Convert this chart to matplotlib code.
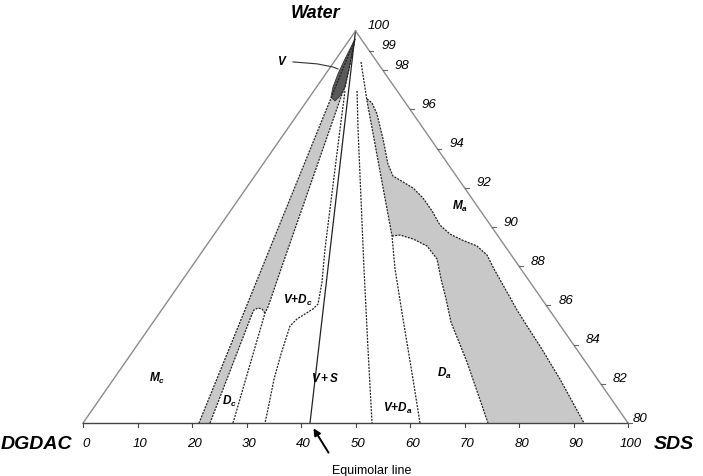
import matplotlib.pyplot as plt

# 部分三角相图：x 为 DGDAC/SDS 轴 (0-100)，y 为水含量 (80-100)
bottom_ticks = [0, 10, 20, 30, 40, 50, 60, 70, 80, 90, 100]
water_ticks = [100, 99, 98, 96, 94, 92, 90, 88, 86, 84, 82, 80]

# V 区 (深灰)
v_x = [49.91, 49.54, 48.81, 48.07, 47.16, 46.24, 45.50, 45.87, 46.79, 47.89, 48.99]
v_y = [99.59, 99.08, 98.06, 97.14, 96.68, 96.43, 96.63, 97.14, 97.81, 98.47, 99.08]

# 左侧两相带 Mc / Dc
band_l_x = [49.91, 21.28]
band_l_y = [99.59, 80.0]
band_r1_x = [23.30, 31.01]
band_r1_y = [80.0, 85.56]
cap_x = [31.01, 31.38, 32.11, 32.84, 33.39]
cap_y = [85.56, 85.77, 85.87, 85.82, 85.61]
band_r2_x = [27.52, 33.39, 33.94, 37.61, 47.34, 48.07, 48.81, 49.54, 49.91]
band_r2_y = [80.0, 85.61, 85.92, 88.88, 96.63, 97.14, 98.06, 99.08, 99.59]

# 中间相界线
line_a_x = [48.07, 47.16, 44.40, 43.85, 43.12, 42.20, 39.27, 37.98, 36.33, 35.05, 33.94, 33.39]
line_a_y = [96.94, 95.00, 88.88, 87.19, 86.07, 85.82, 85.31, 84.95, 83.52, 82.24, 80.71, 80.0]
line_b_x = [50.28, 50.46, 51.01, 51.56, 52.29, 53.03]
line_b_y = [96.94, 95.00, 91.43, 87.86, 83.78, 80.0]
line_c_x = [51.01, 52.11, 54.42, 56.70, 57.25, 58.72, 60.55, 61.83]
line_c_y = [98.42, 96.43, 92.96, 89.54, 87.86, 85.31, 82.24, 80.0]

# 右侧两相区 Ma / Da
inner_x = [56.70, 58.17, 60.55, 63.12, 64.95, 65.69, 66.61, 67.52, 70.46, 74.31]
inner_y = [89.54, 89.59, 89.39, 89.03, 88.37, 87.35, 86.33, 85.15, 83.11, 80.0]
outer_x = [52.11, 53.03, 53.94, 55.05, 55.96, 56.88, 58.72, 60.55, 62.39, 64.04, 65.50,
           67.34, 69.54, 72.29, 74.13, 75.41, 77.80, 79.63, 81.47, 83.85, 87.52, 91.93]
outer_y = [96.53, 96.33, 95.77, 94.49, 93.21, 92.60, 92.30, 91.99, 91.48, 90.82, 90.10,
           89.64, 89.34, 89.03, 88.57, 87.86, 86.68, 85.77, 84.95, 83.93, 82.24, 80.0]

# 等摩尔线 (顶点 -> 底边)
equimolar_x = [50.0, 41.65]
equimolar_y = [100.0, 80.0]

plt.rcParams['font.family'] = ['Liberation Sans', 'DejaVu Sans']
plt.rcParams['mathtext.fontset'] = 'custom'
plt.rcParams['mathtext.rm'] = 'Liberation Sans:bold:italic'
plt.rcParams['mathtext.it'] = 'Liberation Sans:bold:italic'
plt.rcParams['mathtext.bf'] = 'Liberation Sans:bold:italic'

fig = plt.figure(figsize=(7.03, 4.77), dpi=100)
ax = fig.add_axes([0, 0, 1, 1])
ax.set_xlim(-15.23, 113.76)
ax.set_ylim(77.30, 101.63)
ax.axis('off')

grey = '#c8c8c8'
dash = dict(color='#222222', lw=0.9, ls=(0, (1.6, 1.0)))

# 左侧灰带
poly_x = band_l_x + band_r1_x + cap_x[1:] + band_r2_x[2:]
poly_y = band_l_y + band_r1_y + cap_y[1:] + band_r2_y[2:]
ax.fill(poly_x, poly_y, color=grey, lw=0)
for xs, ys in [(band_l_x, band_l_y), (band_r1_x, band_r1_y), (cap_x, cap_y), (band_r2_x, band_r2_y)]:
    ax.plot(xs, ys, **dash)

# 右侧灰区
rx = line_c_x[1:4] + inner_x[1:] + outer_x[::-1]
ry = line_c_y[1:4] + inner_y[1:] + outer_y[::-1]
ax.fill(rx, ry, color=grey, lw=0)
ax.plot(inner_x, inner_y, **dash)
ax.plot(outer_x, outer_y, **dash)

# V 区
ax.fill(v_x, v_y, color='#5a5a5a', ec='#333333', lw=0.6)

for xs, ys in [(line_a_x, line_a_y), (line_b_x, line_b_y), (line_c_x, line_c_y)]:
    ax.plot(xs, ys, **dash)
ax.plot(equimolar_x, equimolar_y, color='#222222', lw=0.9)

# 三角形边框
ax.plot([0, 50], [80, 100], color='#8c8c8c', lw=1.0)
ax.plot([50, 100], [100, 80], color='#8c8c8c', lw=1.0)
ax.plot([0, 100], [80, 80], color='#444444', lw=1.0)

# 底边刻度
for t in bottom_ticks:
    ax.plot([t, t], [80, 79.8], color='#444444', lw=0.8)
    ax.text(t + 0.5, 78.98, str(t), ha='center', va='center', fontsize=9.5, style='italic')

# 右边刻度 (水含量)
for w in water_ticks:
    ex = 100 - 2.5 * (w - 80)
    if w != 100:
        ax.plot([ex, ex + 0.75], [w, w], color='#666666', lw=0.8)
    dx = 0.9 if w == 80 else 2.2
    ax.text(ex + dx, w + 0.28, str(w), ha='left', va='center', fontsize=9.5, style='italic')

# 轴名称
ax.text(42.75, 100.92, 'Water', ha='center', va='center', fontsize=13, weight='bold', style='italic')
ax.text(-2.0, 78.98, 'DGDAC', ha='right', va='center', fontsize=14, weight='bold', style='italic')
ax.text(104.8, 78.98, 'SDS', ha='left', va='center', fontsize=14, weight='bold', style='italic')

# 相区标签
lab = dict(ha='center', va='center', fontsize=8.5)
ax.text(13.58, 82.35, r'$M_c$', **lab)
ax.text(26.79, 81.17, r'$D_c$', **lab)
ax.text(39.45, 86.33, r'$V{+}D_c$', **lab)
ax.text(44.40, 82.30, r'$V + S$', **lab)
ax.text(57.80, 80.82, r'$V{+}D_a$', **lab)
ax.text(66.24, 82.60, r'$D_a$', **lab)
ax.text(69.17, 91.12, r'$M_a$', **lab)
ax.text(36.51, 98.47, r'$V$', **lab)
ax.plot([38.53, 43.0, 45.87, 46.79], [98.42, 98.32, 98.16, 98.06], color='#333333', lw=0.8)

ax.annotate('', xy=(42.02, 79.85), xytext=(45.32, 78.37),
            arrowprops=dict(arrowstyle='-|>', color='black', lw=1.4, mutation_scale=10))
ax.text(45.6, 77.62, 'Equimolar line', ha='left', va='center', fontsize=9)

fig.savefig('out.png', dpi=100)
